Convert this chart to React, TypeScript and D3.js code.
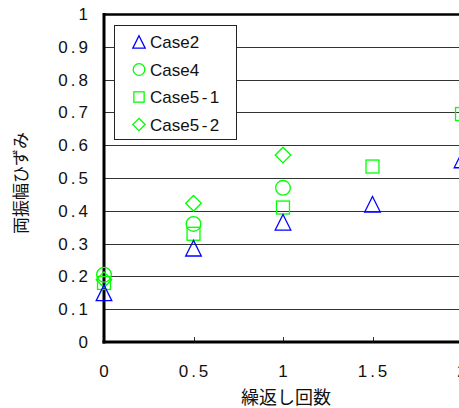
import React, { useEffect, useRef } from 'react';
import * as d3 from 'd3';

// 系列データ (x: 繰返し回数, y: 両振幅ひずみ)
const xCase2 = [0, 0.5, 1, 1.5, 2];
const yCase2 = [0.15, 0.286, 0.365, 0.42, 0.555];
const xCase4 = [0, 0.5, 1];
const yCase4 = [0.205, 0.36, 0.47];
const xCase51 = [0, 0.5, 1, 1.5, 2];
const yCase51 = [0.18, 0.33, 0.41, 0.535, 0.695];
const xCase52 = [0, 0.5, 1];
const yCase52 = [0.19, 0.423, 0.57];

const seriesNames = ['Case2', 'Case4', 'Case5-1', 'Case5-2'];
const yTicks = [0, 0.1, 0.2, 0.3, 0.4, 0.5, 0.6, 0.7, 0.8, 0.9, 1];
const xTicks = [0, 0.5, 1, 1.5, 2];

const BLUE = '#0000ff';
const GREEN = '#00ff00';

export default function App() {
  const svgRef = useRef<SVGSVGElement>(null);

  useEffect(() => {
    const width = 459;
    const height = 408;
    const svg = d3.select(svgRef.current).attr('width', width).attr('height', height).html('');

    const x = d3.scaleLinear().domain([0, 2]).range([104, 462]);
    const y = d3.scaleLinear().domain([0, 1]).range([342, 14]);
    const font = '"Liberation Sans", Arial, sans-serif';
    const jpFont = '"Noto Sans CJK JP", sans-serif';
    const ls = 3; // 数字の字間

    // グリッド線
    svg.append('g')
      .selectAll('line')
      .data(yTicks.slice(1))
      .enter()
      .append('line')
      .attr('x1', x(0))
      .attr('x2', width)
      .attr('y1', (d) => Math.round(y(d)) + 0.5)
      .attr('y2', (d) => Math.round(y(d)) + 0.5)
      .attr('stroke', (d) => (d === 1 ? '#000' : '#333'))
      .attr('stroke-width', (d) => (d === 1 ? 2.5 : 1));

    // x 軸の目盛り (内向き)
    svg.append('g')
      .selectAll('line')
      .data(xTicks.slice(1))
      .enter()
      .append('line')
      .attr('x1', (d) => Math.round(x(d)) + 0.5)
      .attr('x2', (d) => Math.round(x(d)) + 0.5)
      .attr('y1', y(0))
      .attr('y2', y(0) - 5)
      .attr('stroke', '#333');

    // 軸線
    svg.append('line')
      .attr('x1', x(0)).attr('x2', x(0))
      .attr('y1', y(1) - 1).attr('y2', y(0) + 1.5)
      .attr('stroke', '#000').attr('stroke-width', 3);
    svg.append('line')
      .attr('x1', x(0) - 1.5).attr('x2', width)
      .attr('y1', y(0)).attr('y2', y(0))
      .attr('stroke', '#000').attr('stroke-width', 3);

    // y 目盛りラベル
    svg.append('g')
      .selectAll('text')
      .data(yTicks)
      .enter()
      .append('text')
      .attr('x', 88 + ls)
      .attr('y', (d) => y(d) + 6)
      .attr('text-anchor', 'end')
      .attr('font-family', font)
      .attr('font-size', 17)
      .attr('letter-spacing', ls)
      .attr('fill', '#111')
      .text((d) => String(d));

    // x 目盛りラベル
    svg.append('g')
      .selectAll('text')
      .data(xTicks)
      .enter()
      .append('text')
      .attr('x', (d) => x(d) + ls / 2)
      .attr('y', 377)
      .attr('text-anchor', 'middle')
      .attr('font-family', font)
      .attr('font-size', 17)
      .attr('letter-spacing', ls)
      .attr('fill', '#111')
      .text((d) => String(d));

    // 軸タイトル
    svg.append('text')
      .attr('x', 286)
      .attr('y', 404)
      .attr('text-anchor', 'middle')
      .attr('font-family', jpFont)
      .attr('font-size', 18)
      .attr('fill', '#111')
      .text('繰返し回数');
    svg.append('text')
      .attr('transform', 'translate(27, 183) rotate(-90)')
      .attr('text-anchor', 'middle')
      .attr('font-family', jpFont)
      .attr('font-size', 17)
      .attr('fill', '#111')
      .text('両振幅ひずみ');

    // マーカー描画 (s: 半径)
    const tri = (g: any, cx: number, cy: number, s = 7.8) =>
      g.append('path')
        .attr('d', `M${cx},${cy - s}L${cx + s},${cy + s}L${cx - s},${cy + s}Z`)
        .attr('fill', 'none').attr('stroke', BLUE).attr('stroke-width', 1.3);
    const circ = (g: any, cx: number, cy: number, s = 7.8) =>
      g.append('circle').attr('cx', cx).attr('cy', cy).attr('r', s * 0.94)
        .attr('fill', 'none').attr('stroke', GREEN).attr('stroke-width', 1.3);
    const sq = (g: any, cx: number, cy: number, s = 7.8) =>
      g.append('rect').attr('x', cx - s * 0.83).attr('y', cy - s * 0.83)
        .attr('width', s * 1.66).attr('height', s * 1.66)
        .attr('fill', 'none').attr('stroke', GREEN).attr('stroke-width', 1.3);
    const dia = (g: any, cx: number, cy: number, s = 7.8) =>
      g.append('path')
        .attr('d', `M${cx},${cy - s}L${cx + s},${cy}L${cx},${cy + s}L${cx - s},${cy}Z`)
        .attr('fill', 'none').attr('stroke', GREEN).attr('stroke-width', 1.3);

    const marks = svg.append('g');
    xCase52.forEach((v, i) => dia(marks, x(v), y(yCase52[i])));
    xCase51.forEach((v, i) => sq(marks, x(v), y(yCase51[i])));
    xCase4.forEach((v, i) => circ(marks, x(v), y(yCase4[i])));
    xCase2.forEach((v, i) => tri(marks, x(v), y(yCase2[i])));

    // 凡例
    const legend = svg.append('g');
    legend.append('rect')
      .attr('x', 114.5).attr('y', 25.5).attr('width', 122).attr('height', 114)
      .attr('fill', '#fff').attr('stroke', '#222').attr('stroke-width', 1);
    const drawers = [tri, circ, sq, dia];
    seriesNames.forEach((name, i) => {
      const cy = 42 + i * 27.5;
      drawers[i](legend, 139, cy, 6.2);
      const parts = name.split('-');
      const t = legend.append('text')
        .attr('x', 150)
        .attr('y', cy + 6)
        .attr('font-family', font)
        .attr('font-size', 17)
        .attr('fill', '#111');
      t.append('tspan').text(parts[0]);
      if (parts.length > 1) {
        t.append('tspan').attr('dx', 2.5).text('-');
        t.append('tspan').attr('dx', 2.5).text(parts[1]);
      }
    });
  }, []);

  return <svg ref={svgRef} style={{ position: 'absolute', left: 0, top: 0 }}></svg>;
}
